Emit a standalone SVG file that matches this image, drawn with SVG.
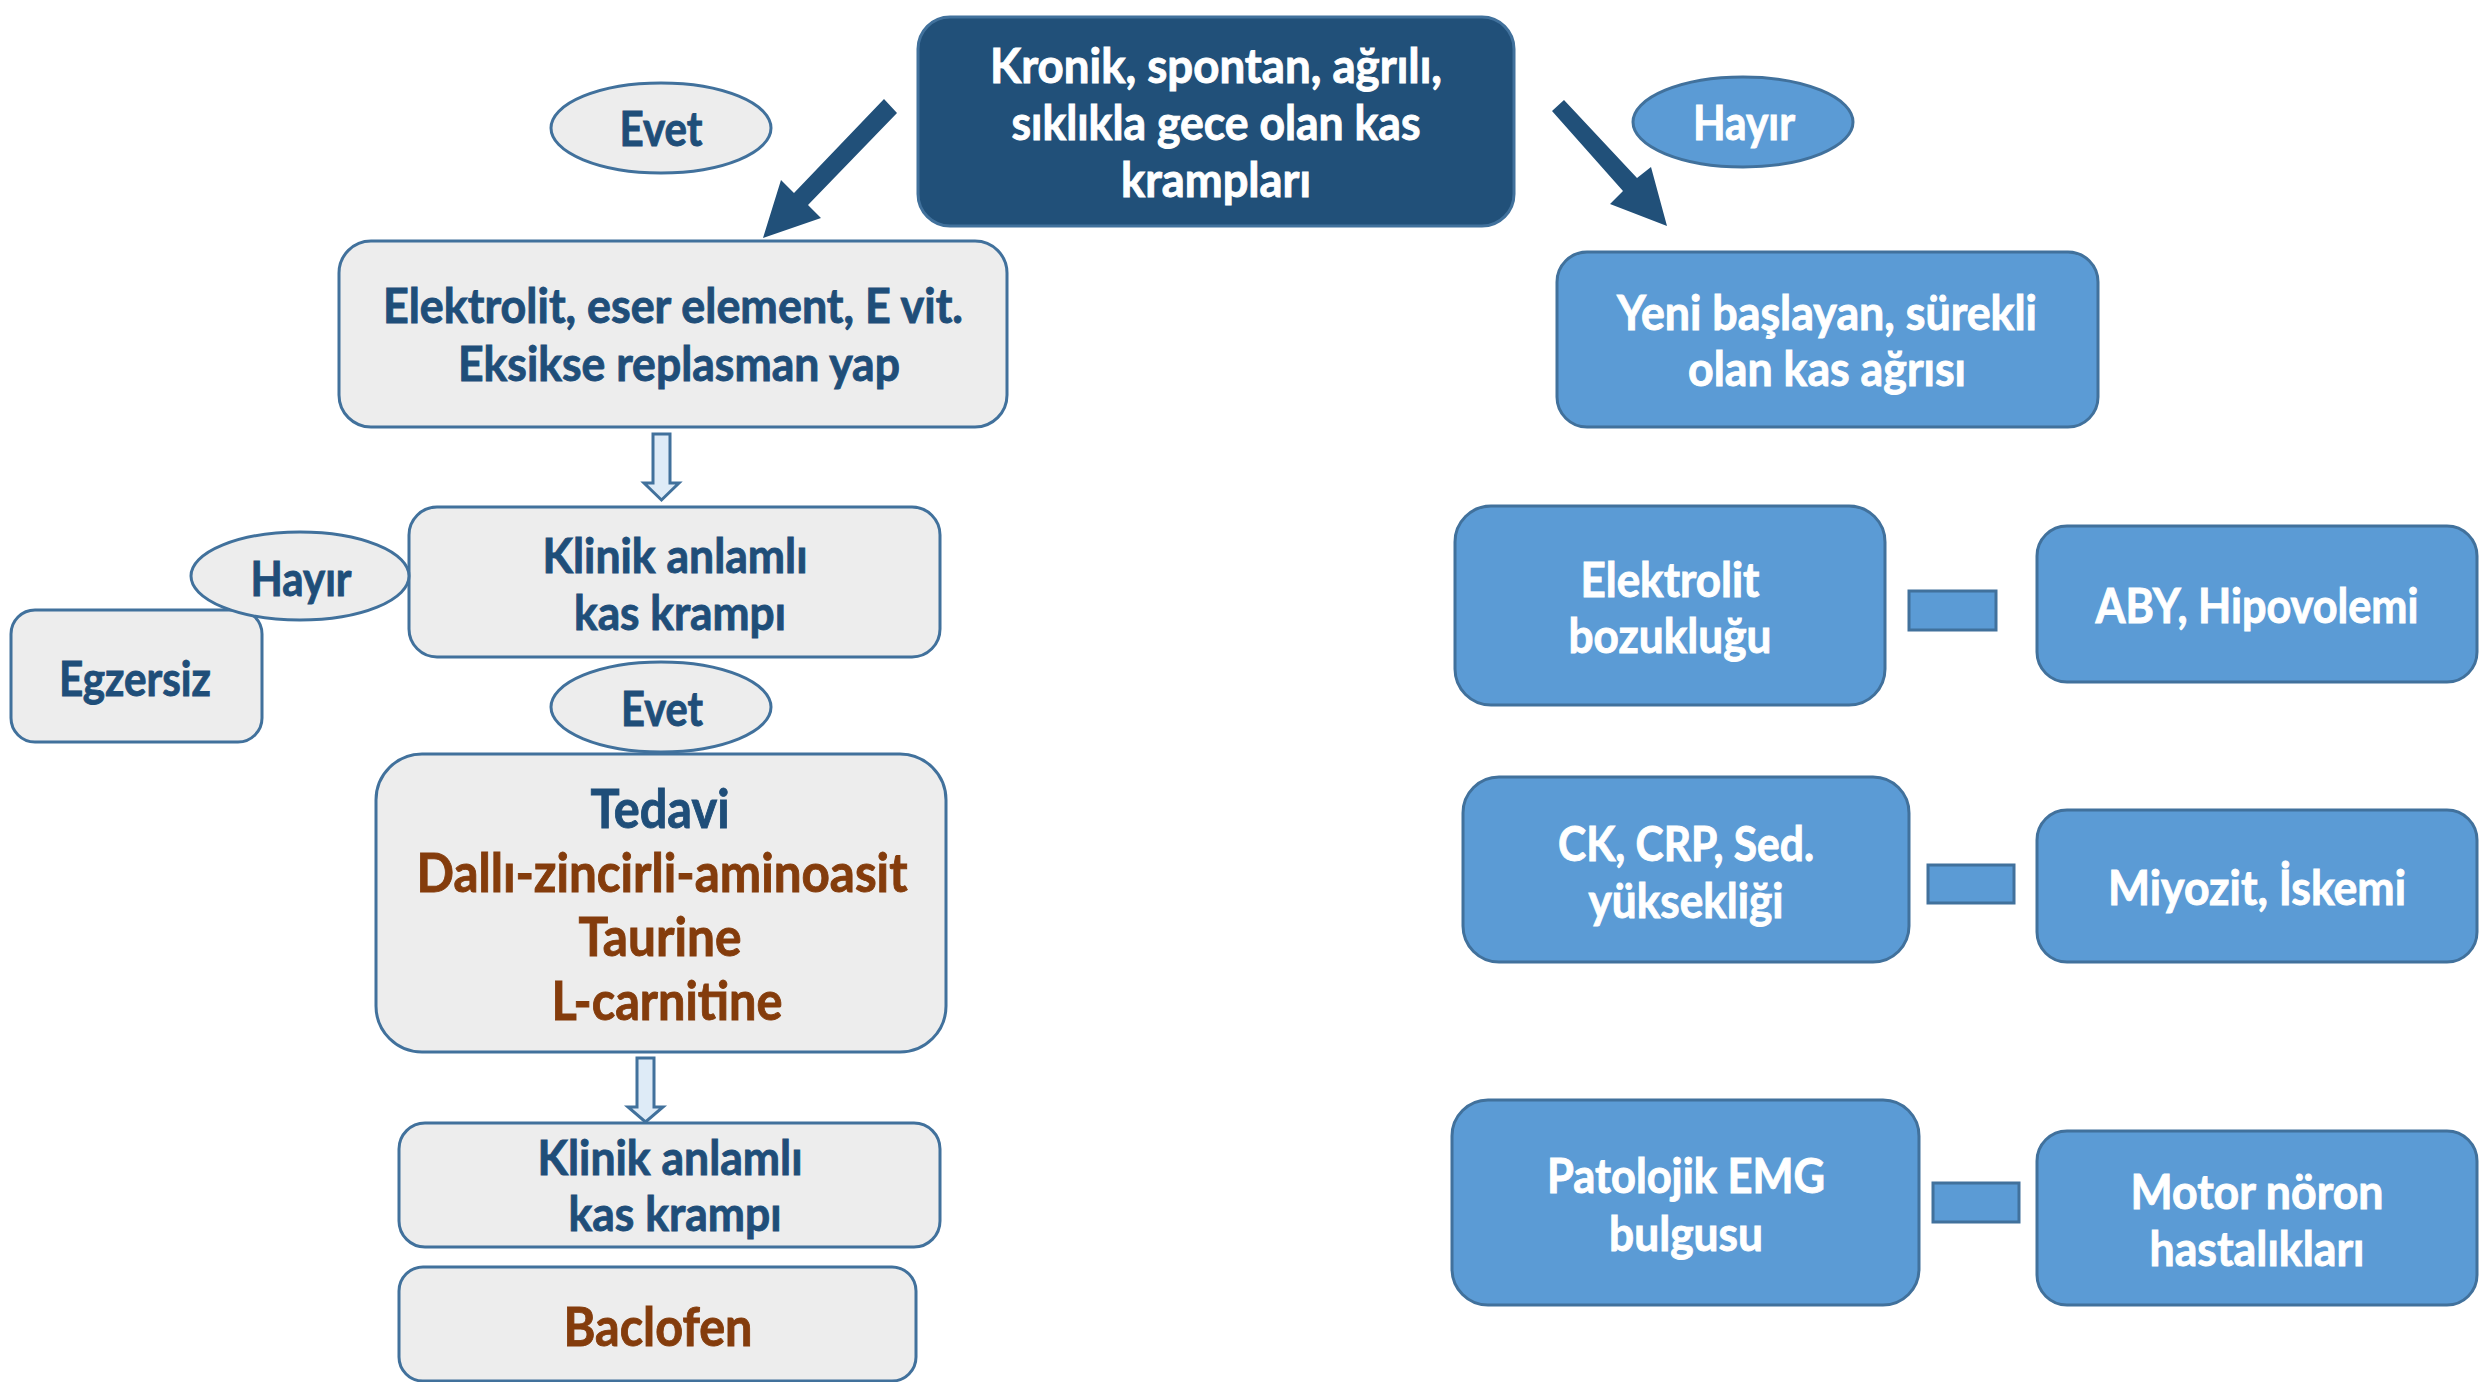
<svg xmlns="http://www.w3.org/2000/svg" width="2486" height="1382" viewBox="0 0 2486 1382">
<style>
text{font-family:Lato,"Open Sans","Liberation Sans",sans-serif;font-weight:700;text-anchor:middle;font-size:47px;stroke-width:0.9px}
.gray{fill:#EDEDED;stroke:#41719C;stroke-width:3}
.blue{fill:#5B9BD5;stroke:#41719C;stroke-width:3}
.dark{fill:#215079;stroke:#41719C;stroke-width:3}
.blk{fill:#DEEBF7;stroke:#41719C;stroke-width:3}
.tn{fill:#1F4E79;stroke:#1F4E79}
.tw{fill:#FFFFFF;stroke:#FFFFFF}
.tb{fill:#843C0C;stroke:#843C0C;font-size:53px}
.big{font-size:53px}
</style>
<rect width="2486" height="1382" fill="#FFFFFF"/>
<g id="connectors">
<polygon fill="#215079" points="884,99 897,113 808,205 821,218 763,238 781,180 794,193"/>
<polygon fill="#215079" points="1564,100 1637,178 1651,167 1667,226 1610,204 1623,191 1552,111"/>
<polygon class="blk" points="653,434 670,434 670,483 679,483 661.5,500 644,483 653,483"/>
<polygon class="blk" points="637,1058 654,1058 654,1107 663,1107 645.5,1122 628,1107 637,1107"/>
<rect class="blue" x="1909" y="591" width="87" height="39"/>
<rect class="blue" x="1928" y="865" width="86" height="38"/>
<rect class="blue" x="1933" y="1183" width="86" height="39"/>
</g>
<g id="n-top">
<rect class="dark" x="918" y="17" width="596" height="209" rx="32"/>
<text class="tw" x="1216" y="83" textLength="452" lengthAdjust="spacingAndGlyphs">Kronik, spontan, ağrılı,</text>
<text class="tw" x="1216" y="140" textLength="409" lengthAdjust="spacingAndGlyphs">sıklıkla gece olan kas</text>
<text class="tw" x="1216" y="197" textLength="190" lengthAdjust="spacingAndGlyphs">krampları</text>
</g>
<g id="n-evet1">
<ellipse class="gray" cx="661" cy="128" rx="110" ry="45"/>
<text class="tn" x="661" y="146" textLength="83" lengthAdjust="spacingAndGlyphs">Evet</text>
</g>
<g id="n-hayir1">
<ellipse class="blue" cx="1743" cy="122" rx="110" ry="45"/>
<text class="tw" x="1744" y="140" textLength="102" lengthAdjust="spacingAndGlyphs">Hayır</text>
</g>
<g id="n-elektrolit">
<rect class="gray" x="339" y="241" width="668" height="186" rx="32"/>
<text class="tn" x="673" y="323" textLength="580" lengthAdjust="spacingAndGlyphs">Elektrolit, eser element, E vit.</text>
<text class="tn" x="679" y="381" textLength="442" lengthAdjust="spacingAndGlyphs">Eksikse replasman yap</text>
</g>
<g id="n-klinik1">
<rect class="gray" x="409" y="507" width="531" height="150" rx="28"/>
<text class="tn" x="675" y="573" textLength="265" lengthAdjust="spacingAndGlyphs">Klinik anlamlı</text>
<text class="tn" x="680" y="630" textLength="212" lengthAdjust="spacingAndGlyphs">kas krampı</text>
</g>
<g id="n-egzersiz">
<rect class="gray" x="11" y="610" width="251" height="132" rx="24"/>
<text class="tn" x="135" y="696" textLength="152" lengthAdjust="spacingAndGlyphs">Egzersiz</text>
</g>
<g id="n-hayir2">
<ellipse class="gray" cx="300" cy="576" rx="109" ry="44"/>
<text class="tn" x="301" y="596" textLength="101" lengthAdjust="spacingAndGlyphs">Hayır</text>
</g>
<g id="n-evet2">
<ellipse class="gray" cx="661" cy="707" rx="110" ry="45"/>
<text class="tn" x="662" y="726" textLength="82" lengthAdjust="spacingAndGlyphs">Evet</text>
</g>
<g id="n-tedavi">
<rect class="gray" x="376" y="754" width="570" height="298" rx="46"/>
<text class="tn big" x="660" y="828" textLength="139" lengthAdjust="spacingAndGlyphs">Tedavi</text>
<text class="tb" x="662" y="892" textLength="491" lengthAdjust="spacingAndGlyphs">Dallı-zincirli-aminoasit</text>
<text class="tb" x="660" y="956" textLength="163" lengthAdjust="spacingAndGlyphs">Taurine</text>
<text class="tb" x="667" y="1020" textLength="231" lengthAdjust="spacingAndGlyphs">L-carnitine</text>
</g>
<g id="n-klinik2">
<rect class="gray" x="399" y="1123" width="541" height="124" rx="26"/>
<text class="tn" x="670" y="1175" textLength="265" lengthAdjust="spacingAndGlyphs">Klinik anlamlı</text>
<text class="tn" x="675" y="1231" textLength="213" lengthAdjust="spacingAndGlyphs">kas krampı</text>
</g>
<g id="n-baclofen">
<rect class="gray" x="399" y="1267" width="517" height="114" rx="24"/>
<text class="tb" x="658" y="1346" textLength="189" lengthAdjust="spacingAndGlyphs">Baclofen</text>
</g>
<g id="n-yeni">
<rect class="blue" x="1557" y="252" width="541" height="175" rx="30"/>
<text class="tw" x="1827" y="330" textLength="420" lengthAdjust="spacingAndGlyphs">Yeni başlayan, sürekli</text>
<text class="tw" x="1827" y="386" textLength="278" lengthAdjust="spacingAndGlyphs">olan kas ağrısı</text>
</g>
<g id="n-elbozuk">
<rect class="blue" x="1455" y="506" width="430" height="199" rx="36"/>
<text class="tw" x="1670" y="597" textLength="179" lengthAdjust="spacingAndGlyphs">Elektrolit</text>
<text class="tw" x="1670" y="653" textLength="203" lengthAdjust="spacingAndGlyphs">bozukluğu</text>
</g>
<g id="n-aby">
<rect class="blue" x="2037" y="526" width="440" height="156" rx="30"/>
<text class="tw" x="2257" y="623" textLength="323" lengthAdjust="spacingAndGlyphs">ABY, Hipovolemi</text>
</g>
<g id="n-ck">
<rect class="blue" x="1463" y="777" width="446" height="185" rx="36"/>
<text class="tw" x="1686" y="861" textLength="256" lengthAdjust="spacingAndGlyphs">CK, CRP, Sed.</text>
<text class="tw" x="1686" y="918" textLength="195" lengthAdjust="spacingAndGlyphs">yüksekliği</text>
</g>
<g id="n-miyozit">
<rect class="blue" x="2037" y="810" width="440" height="152" rx="30"/>
<text class="tw" x="2257" y="905" textLength="298" lengthAdjust="spacingAndGlyphs">Miyozit, İskemi</text>
</g>
<g id="n-emg">
<rect class="blue" x="1452" y="1100" width="467" height="205" rx="36"/>
<text class="tw" x="1686" y="1193" textLength="278" lengthAdjust="spacingAndGlyphs">Patolojik EMG</text>
<text class="tw" x="1686" y="1251" textLength="154" lengthAdjust="spacingAndGlyphs">bulgusu</text>
</g>
<g id="n-motor">
<rect class="blue" x="2037" y="1131" width="440" height="174" rx="30"/>
<text class="tw" x="2257" y="1209" textLength="253" lengthAdjust="spacingAndGlyphs">Motor nöron</text>
<text class="tw" x="2257" y="1266" textLength="215" lengthAdjust="spacingAndGlyphs">hastalıkları</text>
</g>
</svg>
